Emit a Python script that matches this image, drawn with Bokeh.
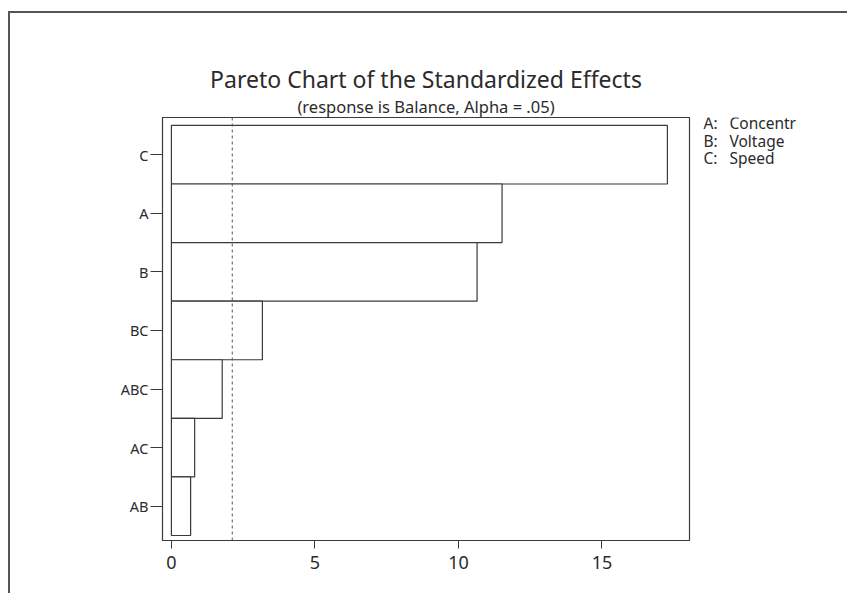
from bokeh.plotting import figure
from bokeh.layouts import row
from bokeh.models import Range1d, FixedTicker, Span, Title, LinearAxis
from bokeh.core.properties import value
from bokeh.embed import file_html
from bokeh.resources import INLINE

# ---- data ----
categories = ["C", "A", "B", "BC", "ABC", "AC", "AB"]
effects = [17.28, 11.52, 10.65, 3.17, 1.77, 0.81, 0.67]
ref_value = 2.12
x_ticks = [0, 5, 10, 15]
factor_keys = ["A:", "B:", "C:"]
factor_names = ["Concentr", "Voltage", "Speed"]
title_text = "Pareto Chart of the Standardized Effects"
subtitle_text = "(response is Balance, Alpha = .05)"

FONT = "Noto Sans"
INK = "#2b2b2b"
LINE = "#3a3a3a"

n = len(categories)
ypos = [n - i for i in range(n)]

X0, X1 = -0.31, 18.05
Y0, Y1 = 0.415, 7.635

p = figure(width=690, height=580, output_backend="svg", toolbar_location=None,
           x_range=Range1d(X0, X1), y_range=Range1d(Y0, Y1),
           min_border_left=152, min_border_right=11,
           min_border_top=104, min_border_bottom=53,
           background_fill_color="white", border_fill_color="white")

p.hbar(y=ypos, left=0, right=effects, height=1.0,
       fill_color="white", line_color=LINE, line_width=1.2)

p.add_layout(Span(location=ref_value, dimension="height", line_color="#555",
                  line_width=1, line_dash="3 3"))

p.xgrid.visible = False
p.ygrid.visible = False
p.outline_line_color = LINE
p.outline_line_width = 1.2

p.xaxis.ticker = FixedTicker(ticks=x_ticks)
p.xaxis.minor_tick_line_color = None
p.xaxis.major_tick_in = 0
p.xaxis.major_tick_out = 8
p.xaxis.major_label_standoff = 7
p.xaxis.major_label_text_font = FONT
p.xaxis.major_label_text_font_size = "18px"
p.xaxis.major_label_text_color = INK
p.xaxis.axis_line_color = LINE
p.xaxis.major_tick_line_color = LINE

p.yaxis.ticker = FixedTicker(ticks=ypos)
p.yaxis.major_label_overrides = {y: c for y, c in zip(ypos, categories)}
p.yaxis.minor_tick_line_color = None
p.yaxis.major_tick_in = 0
p.yaxis.major_tick_out = 12
p.yaxis.major_label_standoff = 2
p.yaxis.major_label_text_font = FONT
p.yaxis.major_label_text_font_size = "14.5px"
p.yaxis.major_label_text_color = INK
p.yaxis.axis_line_color = LINE
p.yaxis.major_tick_line_color = LINE

# tick-less axis used only as a spacer between frame and subtitle
spacer = LinearAxis(ticker=FixedTicker(ticks=[]), major_tick_in=0,
                    major_tick_out=33, minor_tick_out=0, minor_tick_in=0,
                    major_label_standoff=0, axis_line_color=None,
                    major_tick_line_color="white", minor_tick_line_color=None)
p.add_layout(spacer, "above")
p.add_layout(Title(text=subtitle_text, align="center",
                   text_font=FONT, text_font_size="16.5px",
                   text_font_style="normal", text_color=INK,
                   standoff=0, offset=8), "above")
p.add_layout(Title(text=title_text, align="center",
                   text_font=FONT, text_font_size="23px",
                   text_font_style="normal", text_color=INK,
                   standoff=-5, offset=5), "above")

# side panel for the factor key; shares the y scale of the chart
q = figure(width=147, height=580, output_backend="svg", toolbar_location=None,
           x_range=Range1d(0, 147), y_range=p.y_range,
           min_border=0, background_fill_color="white", border_fill_color="white")
q.axis.visible = False
q.grid.visible = False
q.outline_line_color = None

key_y = [7.533, 7.234, 6.944]
q.text(x=[3] * len(factor_keys), y=key_y, text=factor_keys,
       text_font=value(FONT), text_font_size="15.5px", text_color=INK,
       text_baseline="middle")
q.text(x=[29] * len(factor_names), y=key_y, text=factor_names,
       text_font=value(FONT), text_font_size="15.5px", text_color=INK,
       text_baseline="middle")

layout = row(p, q)
layout.margin = (11, 0, 0, 8)
layout.styles = {"border-top": "2px solid #555", "border-left": "2px solid #555"}

open("out.html", "w").write(file_html(layout, INLINE))
